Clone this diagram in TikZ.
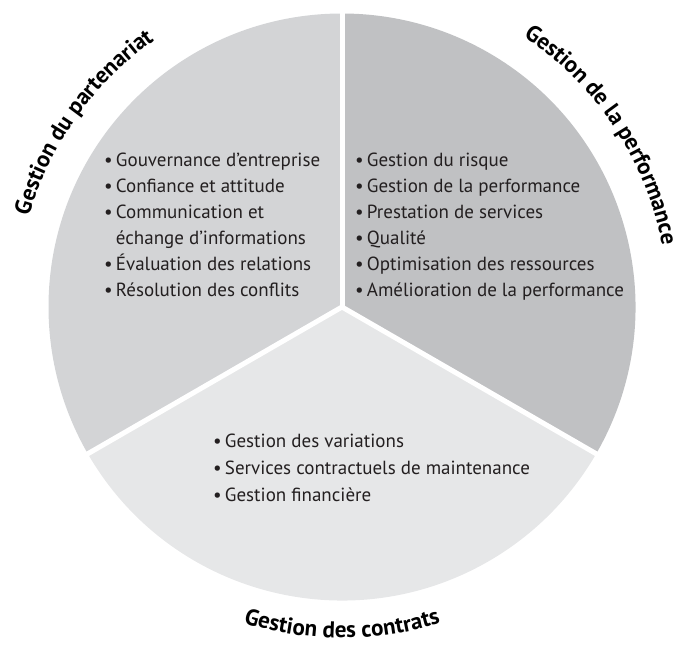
\documentclass[tikz,border=0pt]{standalone}
\usepackage{fontspec}
\setmainfont{PT Sans}
\usetikzlibrary{decorations.text}
\definecolor{secL}{RGB}{211,212,214}
\definecolor{secR}{RGB}{192,193,195}
\definecolor{secB}{RGB}{230,231,232}
\definecolor{txt}{RGB}{35,31,32}
\begin{document}
\begin{tikzpicture}[x=1pt,y=1pt,
  item/.style={anchor=base west, inner sep=0pt, font=\fontsize{19}{23}\selectfont, text=txt},
  gap/.style={white, line width=5pt},
  heading/.style={decorate, decoration={text along path, text align=center,
    text color=black, text={|\bfseries\fontsize{23}{23}\selectfont|#1}}}]
\useasboundingbox (0,0) rectangle (678,646);
\coordinate (C) at (342,339);
% sectors
\fill[secL] (C) -- ([shift={(90:293.5)}]C) arc[start angle=90, end angle=210, radius=293.5] -- cycle;
\fill[secR] (C) -- ([shift={(-30:293.5)}]C) arc[start angle=-30, end angle=90, radius=293.5] -- cycle;
\fill[secB] (C) -- ([shift={(210:293.5)}]C) arc[start angle=210, end angle=330, radius=293.5] -- cycle;
% gaps
\coordinate (gT) at ([shift={(90:300)}]C);
\coordinate (gL) at ([shift={(210:300)}]C);
\coordinate (gR) at ([shift={(330:300)}]C);
\draw[gap] (C) -- (gT);
\draw[gap] (C) -- (gL);
\draw[gap] (C) -- (gR);
% headings
\path[heading={Gestion du partenariat}] ([shift={(175:326)}]C) arc[start angle=175, end angle=114, radius=326];
\path[heading={Gestion de la performance}] ([shift={(65:326)}]C) arc[start angle=65, end angle=2, radius=326];
\path[heading={Gestion des contrats}] ([shift={(235:331)}]C) arc[start angle=235, end angle=305, radius=331];
% left list
\node[item] (l1) at (104,479) {\textbullet\,Gouvernance d’entreprise};
\node[item] (l2) at (104,453) {\textbullet\,Confiance et attitude};
\node[item] (l3) at (104,427) {\textbullet\,Communication et};
\node[item] (l4) at (104,401) {\phantom{\textbullet\,}échange d’informations};
\node[item] (l5) at (104,375) {\textbullet\,Évaluation des relations};
\node[item] (l6) at (104,349) {\textbullet\,Résolution des conflits};
% right list
\node[item] (r1) at (355,479) {\textbullet\,Gestion du risque};
\node[item] (r2) at (355,453) {\textbullet\,Gestion de la performance};
\node[item] (r3) at (355,427) {\textbullet\,Prestation de services};
\node[item] (r4) at (355,401) {\textbullet\,Qualité};
\node[item] (r5) at (355,375) {\textbullet\,Optimisation des ressources};
\node[item] (r6) at (355,349) {\textbullet\,Amélioration de la performance};
% bottom list
\node[item] (b1) at (213,198) {\textbullet\,Gestion des variations};
\node[item] (b2) at (213,171) {\textbullet\,Services contractuels de maintenance};
\node[item] (b3) at (213,144) {\textbullet\,Gestion financière};
\end{tikzpicture}
\end{document}
